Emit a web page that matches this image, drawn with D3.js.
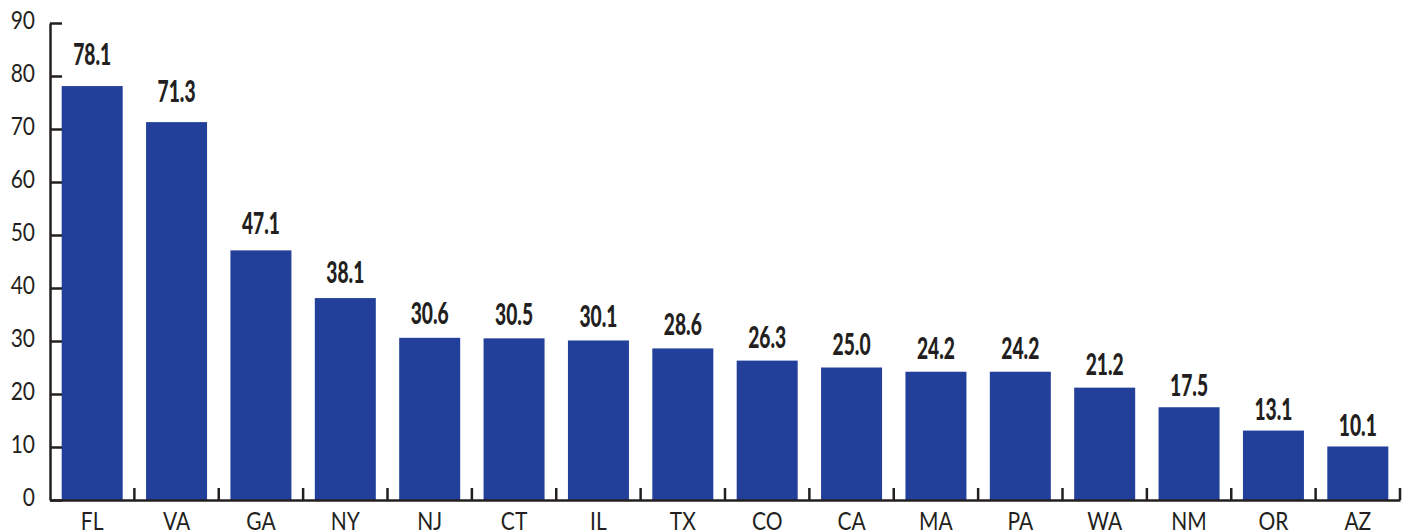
<!DOCTYPE html>
<html>
<head>
<meta charset="utf-8">
<script src="https://cdn.jsdelivr.net/npm/d3@7"></script>
<style>
  body { margin: 0; background: #fff; }
  svg { display: block; }
</style>
</head>
<body>
<div id="chart"></div>
<script>
// chart data
const states = ["FL", "VA", "GA", "NY", "NJ", "CT", "IL", "TX", "CO", "CA", "MA", "PA", "WA", "NM", "OR", "AZ"];
const values = [78.1, 71.3, 47.1, 38.1, 30.6, 30.5, 30.1, 28.6, 26.3, 25.0, 24.2, 24.2, 21.2, 17.5, 13.1, 10.1];
const yTicks = [0, 10, 20, 30, 40, 50, 60, 70, 80, 90];

const width = 1411, height = 532;
const plotLeft = 50, plotRight = 1400, plotTop = 23, plotBottom = 500;
const ink = "#231f20";
const barColor = "#22409a";
const font = "Lato, 'Open Sans', 'Liberation Sans', sans-serif";
const squeeze = 0.84;      // text in the original is narrow
const squeezeBold = 0.64;

const svg = d3.select("#chart")
  .append("svg")
    .attr("width", width)
    .attr("height", height);

const x = d3.scaleBand()
  .domain(states)
  .range([plotLeft, plotRight])
  .paddingInner(0.277)
  .paddingOuter(0.1385);

const y = d3.scaleLinear()
  .domain([0, 90])
  .range([plotBottom, plotTop]);

let data = states.map((s, i) => ({state: s, value: values[i]}));

// bars
svg.selectAll("rect.bar")
  .data(data)
  .enter()
  .append("rect")
    .attr("class", "bar")
    .attr("x", d => x(d.state))
    .attr("width", x.bandwidth())
    .attr("y", d => y(d.value))
    .attr("height", d => y(0) - y(d.value))
    .attr("fill", barColor);

// y axis, ticks pointing inward
const yAxis = svg.append("g")
  .attr("transform", "translate(" + plotLeft + ",0)")
  .call(d3.axisLeft(y).tickValues(yTicks).tickSize(-12).tickPadding(15).tickSizeOuter(0));
yAxis.select(".domain").attr("stroke", ink).attr("stroke-width", 2.5);
yAxis.selectAll(".tick line").attr("stroke", ink).attr("stroke-width", 2.5);
yAxis.selectAll(".tick text")
  .attr("x", 0)
  .attr("dy", "0.22em")
  .attr("transform", "translate(-15,0) scale(" + squeeze + ",1)")
  .attr("fill", ink)
  .style("font-family", font)
  .style("font-size", "25px");

// x axis baseline
const xAxis = svg.append("g")
  .attr("transform", "translate(0," + plotBottom + ")")
  .call(d3.axisBottom(x).tickSize(0).tickPadding(0).tickSizeOuter(0));
xAxis.select(".domain").attr("stroke", ink).attr("stroke-width", 2.5);
xAxis.selectAll(".tick text")
  .attr("y", 0)
  .attr("dy", 0)
  .attr("transform", "translate(0,30) scale(" + squeeze + ",1)")
  .attr("fill", ink)
  .style("font-family", font)
  .style("font-size", "25px");

// separators between categories
const gap = x.paddingInner() * x.step() / 2;
const bounds = states.map(s => x(s) + x.bandwidth() + gap);
svg.selectAll("line.sep")
  .data(bounds)
  .enter()
  .append("line")
    .attr("class", "sep")
    .attr("x1", d => d).attr("x2", d => d)
    .attr("y1", plotBottom).attr("y2", plotBottom - 12)
    .attr("stroke", ink)
    .attr("stroke-width", 2.5);

// value labels, a little higher above the taller bars
svg.selectAll("text.val")
  .data(data)
  .enter()
  .append("text")
    .attr("class", "val")
    .attr("transform", d => "translate(" + (x(d.state) + x.bandwidth() / 2) + "," +
      (y(d.value) - 9 - 0.15 * d.value) + ") scale(" + squeezeBold + ",1)")
    .attr("text-anchor", "middle")
    .attr("fill", ink)
    .style("font-family", font)
    .style("font-weight", "900")
    .style("font-size", "30px")
    .text(d => d.value.toFixed(1));
</script>
</body>
</html>
